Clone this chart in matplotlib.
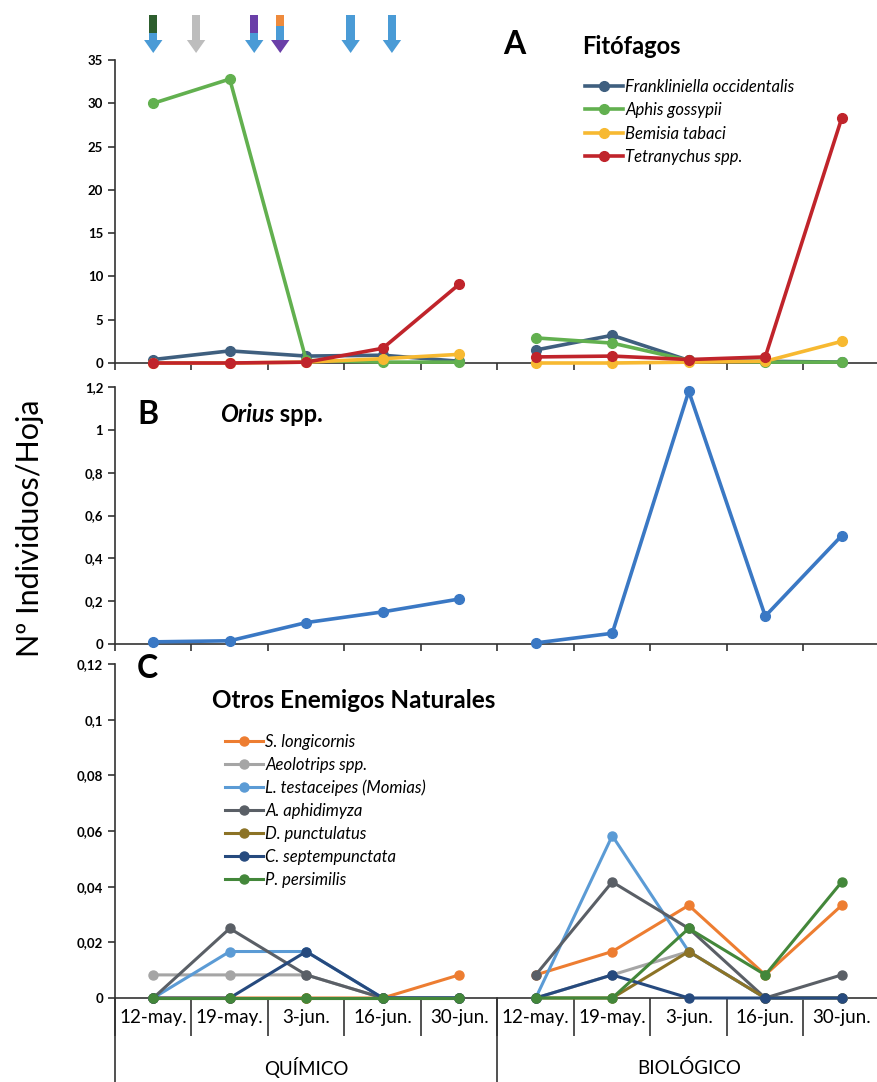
import numpy as np
import matplotlib
matplotlib.use("Agg")
import matplotlib.pyplot as plt
from matplotlib.ticker import FuncFormatter, MultipleLocator
from matplotlib.transforms import blended_transform_factory
from matplotlib.patches import Polygon

plt.rcParams['font.family'] = ['Lato', 'DejaVu Sans']

# Data
fechas = ['12-may.', '19-may.', '3-jun.', '16-jun.', '30-jun.'] * 2
grupos = ['QUÍMICO', 'BIOLÓGICO']

# panel A - fitofagos (quimico 5 + biologico 5)
frankliniella = [0.4, 1.4, 0.8, 0.9, 0.2, 1.5, 3.2, 0.3, 0.2, 0.1]
aphis = [30.0, 32.8, 0.3, 0.1, 0.1, 2.9, 2.3, 0.3, 0.1, 0.1]
bemisia = [0.0, 0.0, 0.1, 0.5, 1.0, 0.0, 0.0, 0.1, 0.2, 2.5]
tetranychus = [0.0, 0.0, 0.1, 1.7, 9.1, 0.7, 0.8, 0.4, 0.7, 28.3]

# panel B - Orius
orius = [0.01, 0.015, 0.1, 0.15, 0.21, 0.005, 0.05, 1.18, 0.13, 0.506]

# panel C - otros enemigos naturales
s_longicornis = [0, 0, 0, 0, 0.0083, 0.0083, 0.0167, 0.0333, 0.0083, 0.0333]
aeolotrips = [0.0083, 0.0083, 0.0083, 0, 0, 0, 0.0083, 0.0167, 0, 0]
l_testaceipes = [0, 0.0167, 0.0167, 0, 0, 0, 0.0583, 0.0167, 0, 0]
a_aphidimyza = [0, 0.025, 0.0083, 0, 0, 0.0083, 0.0417, 0.025, 0, 0.0083]
d_punctulatus = [0, 0, 0, 0, 0, 0, 0, 0.0167, 0, 0]
c_septempunctata = [0, 0, 0.0167, 0, 0, 0, 0.0083, 0, 0, 0]
p_persimilis = [0, 0, 0, 0, 0, 0, 0, 0.025, 0.0083, 0.0417]

# treatment arrows (x in category units, colours top -> head)
arrow_x = [0.0, 0.56, 1.32, 1.66, 2.58, 3.12]
arrow_cols = [['#2d5e2e', '#4a9bd6', '#4a9bd6'],
              ['#bdbdbd', '#bdbdbd', '#bdbdbd'],
              ['#6a3fa8', '#4a9bd6', '#4a9bd6'],
              ['#ee8a3c', '#4a9bd6', '#6a3fa8'],
              ['#4a9bd6', '#4a9bd6', '#4a9bd6'],
              ['#4a9bd6', '#4a9bd6', '#4a9bd6']]

W, H = 878, 1082
fig = plt.figure(figsize=(W / 100, H / 100), dpi=100)
x = np.arange(10)


def fa(l, t, r, b):
    return [l / W, 1 - b / H, (r - l) / W, (b - t) / H]


def comma(v, pos):
    if abs(v) < 1e-12:
        return '0'
    return ('%g' % v).replace('.', ',')


def style(ax, ymax, step, tlen=5):
    ax.set_xlim(-0.5, 9.5)
    ax.set_ylim(0, ymax)
    ax.spines['top'].set_visible(False)
    ax.spines['right'].set_visible(False)
    for s in ['left', 'bottom']:
        ax.spines[s].set_color('#333333')
        ax.spines[s].set_linewidth(1.2)
    ax.yaxis.set_major_locator(MultipleLocator(step))
    ax.yaxis.set_major_formatter(FuncFormatter(comma))
    ax.set_xticks(np.arange(-0.5, 10, 1))
    ax.set_xticklabels([])
    ax.tick_params(axis='x', direction='out', length=tlen, width=1.2, color='#333333')
    ax.tick_params(axis='y', direction='out', length=5, width=1.2, color='#333333',
                   labelsize=9.5)
    for lb in ax.get_yticklabels():
        lb.set_fontweight('bold')
    ax.patch.set_alpha(0)


def serie(ax, vals, color, label, lw=2.6, ms=7):
    for k, (a, b) in enumerate([(0, 5), (5, 10)]):
        ax.plot(x[a:b], vals[a:b], color=color, lw=lw, marker='o', ms=ms,
                label=label if k == 0 else None, clip_on=False, zorder=3)


# Panel A
axA = fig.add_axes(fa(115, 60, 880, 363))
serie(axA, frankliniella, '#3f5f7f', 'Frankliniella occidentalis')
serie(axA, aphis, '#62b04f', 'Aphis gossypii')
serie(axA, bemisia, '#f7b931', 'Bemisia tabaci')
serie(axA, tetranychus, '#c0242b', 'Tetranychus spp.')
style(axA, 35, 5)
axA.legend(loc='upper left', bbox_to_anchor=((578 - 115) / 765, 1 - (72 - 60) / 303),
           frameon=False, prop={'style': 'italic', 'size': 12}, handlelength=2.3,
           labelspacing=0.45, handletextpad=0.15, borderaxespad=0)
fig.text(514 / W, 1 - 45 / H, 'A', fontsize=23, fontweight='bold', ha='center', va='center')
fig.text(582 / W, 1 - 47 / H, 'Fitófagos', fontsize=17, fontweight='bold', va='center')

# arrows
tr = blended_transform_factory(axA.transData, fig.transFigure)
sw, hw = 0.055, 0.12
for ax_, cols in zip(arrow_x, arrow_cols):
    segs = [(15, 33), (33, 41)]
    if cols[1] != cols[2] and cols[0] != cols[1]:
        segs = [(15, 26), (26, 41)]
    for (t, b), c in zip(segs, cols[:2]):
        fig.patches.append(Polygon([(ax_ - sw, 1 - t / H), (ax_ + sw, 1 - t / H),
                                    (ax_ + sw, 1 - b / H), (ax_ - sw, 1 - b / H)],
                                   closed=True, transform=tr, color=c, lw=0))
    fig.patches.append(Polygon([(ax_ - hw, 1 - 40 / H), (ax_ + hw, 1 - 40 / H),
                                (ax_, 1 - 53 / H)], closed=True, transform=tr,
                               color=cols[2], lw=0))

# Panel B
axB = fig.add_axes(fa(115, 387, 880, 644))
serie(axB, orius, '#3a78c4', 'Orius spp.')
style(axB, 1.2, 0.2)
fig.text(148 / W, 1 - 414 / H, 'B', fontsize=23, fontweight='bold', ha='center', va='center')
t1 = fig.text(220 / W, 1 - 414 / H, 'Orius', fontsize=17, fontweight='bold', style='italic',
              va='center')
r = fig.canvas.get_renderer()
bb = t1.get_window_extent(renderer=r)
fig.text(bb.x1 / W, 1 - 414 / H, ' spp.', fontsize=17, fontweight='bold', va='center')

# Panel C
axC = fig.add_axes(fa(115, 664, 880, 998))
cl = 2.2
serie(axC, s_longicornis, '#ed7d31', 'S. longicornis', cl, 6.5)
serie(axC, aeolotrips, '#a5a5a5', 'Aeolotrips spp.', cl, 6.5)
serie(axC, l_testaceipes, '#5b9bd5', 'L. testaceipes (Momias)', cl, 6.5)
serie(axC, a_aphidimyza, '#5a5f66', 'A. aphidimyza', cl, 6.5)
serie(axC, d_punctulatus, '#8c7326', 'D. punctulatus', cl, 6.5)
serie(axC, c_septempunctata, '#264a7e', 'C. septempunctata', cl, 6.5)
serie(axC, p_persimilis, '#43873a', 'P. persimilis', cl, 6.5)
style(axC, 0.12, 0.02, tlen=27)
axC.set_xticks(x, minor=True)
axC.set_xticklabels(fechas, minor=True, fontsize=13.5)
axC.tick_params(axis='x', which='minor', length=0, pad=8)
axC.legend(loc='upper left', bbox_to_anchor=((218 - 115) / 765, 1 - (727 - 664) / 334),
           frameon=False, prop={'style': 'italic', 'size': 12}, handlelength=2.3,
           labelspacing=0.42, handletextpad=0.15, borderaxespad=0)
fig.text(147 / W, 1 - 668 / H, 'C', fontsize=23, fontweight='bold', ha='center', va='center')
fig.text(212 / W, 1 - 700 / H, 'Otros Enemigos Naturales', fontsize=17.5, fontweight='bold',
         va='center')

trC = blended_transform_factory(axC.transData, axC.transAxes)
low = -(H - 998) / 334 - 0.01
axC.plot([-0.5, -0.5], [0, low], transform=trC, color='#333333', lw=1.2, clip_on=False)
axC.plot([4.5, 4.5], [0, low], transform=trC, color='#333333', lw=1.2, clip_on=False)
for i, g in enumerate(grupos):
    axC.text(2 + 5 * i, -(1068 - 998) / 334, g, transform=trC, ha='center', va='center',
             fontsize=13.5)

fig.text(30 / W, 1 - 528 / H, 'Nº Individuos/Hoja', rotation=90, fontsize=22,
         ha='center', va='center')

fig.savefig('out.png', dpi=100)
